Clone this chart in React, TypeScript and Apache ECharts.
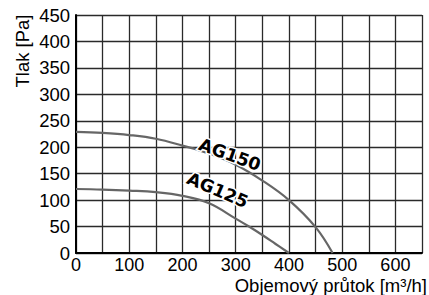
import React, { useEffect, useRef } from "react";
import * as echarts from "echarts";

const xTicks = [0, 100, 200, 300, 400, 500, 600];
const yTickMax = 450;
const xTickMax = 650;

const ag150: [number, number][] = [
  [0, 229], [50, 227], [100, 223], [150, 216], [200, 203], [250, 188],
  [300, 167], [350, 137], [400, 100], [450, 49], [482, 0],
];
const ag125: [number, number][] = [
  [0, 121], [50, 120], [100, 118], [150, 115], [200, 108], [250, 94],
  [300, 65], [325, 50], [350, 34], [375, 17], [400, 0],
];
const seriesNames = ["AG150", "AG125"];
const labelPos: [number, number][] = [[289, 186], [266, 119]];
const labelRot = [-20, -23];

const FONT = "'Liberation Sans', Arial, sans-serif";

export default function App() {
  const ref = useRef<HTMLDivElement>(null);
  useEffect(() => {
    if (!ref.current) return;
    const chart = echarts.init(ref.current, undefined, { renderer: "svg" });
    const mk = (name: string, data: [number, number][], i: number) => ({
      name,
      type: "line",
      data,
      smooth: 0.4,
      showSymbol: false,
      symbol: "none",
      lineStyle: { color: "#666", width: 2.2 },
      z: 3,
      markPoint: {
        symbol: "circle",
        symbolSize: 1,
        itemStyle: { color: "rgba(0,0,0,0)" },
        data: [{ coord: labelPos[i], value: name }],
        label: {
          show: true,
          position: "inside",
          formatter: name,
          rotate: labelRot[i],
          fontFamily: "'DejaVu Sans', sans-serif",
          fontWeight: "bold",
          fontSize: 17.5,
          color: "#000",
          textBorderColor: "#fff",
          textBorderWidth: 3,
        },
      },
    });
    chart.setOption({
      animation: false,
      backgroundColor: "#fff",
      grid: { left: 76, right: 7, top: 15, bottom: 42, containLabel: false },
      xAxis: {
        type: "value",
        min: 0,
        max: xTickMax,
        interval: 50,
        axisLine: { show: true, onZero: false, lineStyle: { color: "#000", width: 2 } },
        axisTick: { show: false },
        axisLabel: {
          margin: 4,
          fontFamily: FONT,
          fontSize: 18,
          lineHeight: 16,
          color: "#000",
          formatter: (v: number) => (xTicks.includes(v) ? String(v) : ""),
        },
        splitLine: { show: true, lineStyle: { color: "#2a2a2a", width: 1.3 } },
      },
      yAxis: {
        type: "value",
        min: 0,
        max: yTickMax,
        interval: 50,
        axisLine: { show: true, onZero: false, lineStyle: { color: "#000", width: 2 } },
        axisTick: { show: false },
        axisLabel: { margin: 6, fontFamily: FONT, fontSize: 18.5, color: "#000" },
        splitLine: { show: true, lineStyle: { color: "#2a2a2a", width: 1.3 } },
      },
      graphic: [
        {
          type: "text",
          x: 22,
          y: 51,
          rotation: Math.PI / 2,
          style: {
            text: "Tlak [Pa]",
            align: "center",
            verticalAlign: "middle",
            font: `18.5px ${FONT}`,
            fill: "#000",
          },
        },
        {
          type: "text",
          x: 427,
          y: 285.5,
          style: {
            text: "Objemový průtok [m³/h]",
            align: "right",
            verticalAlign: "middle",
            font: `18.5px ${FONT}`,
            lineHeight: 16,
            fill: "#000",
          },
        },
      ],
      series: [mk(seriesNames[0], ag150, 0), mk(seriesNames[1], ag125, 1)],
    });
    return () => chart.dispose();
  }, []);
  return (
    <div
      ref={ref}
      style={{ position: "fixed", left: 0, top: 0, width: 429, height: 295, background: "#fff" }}
    />
  );
}
